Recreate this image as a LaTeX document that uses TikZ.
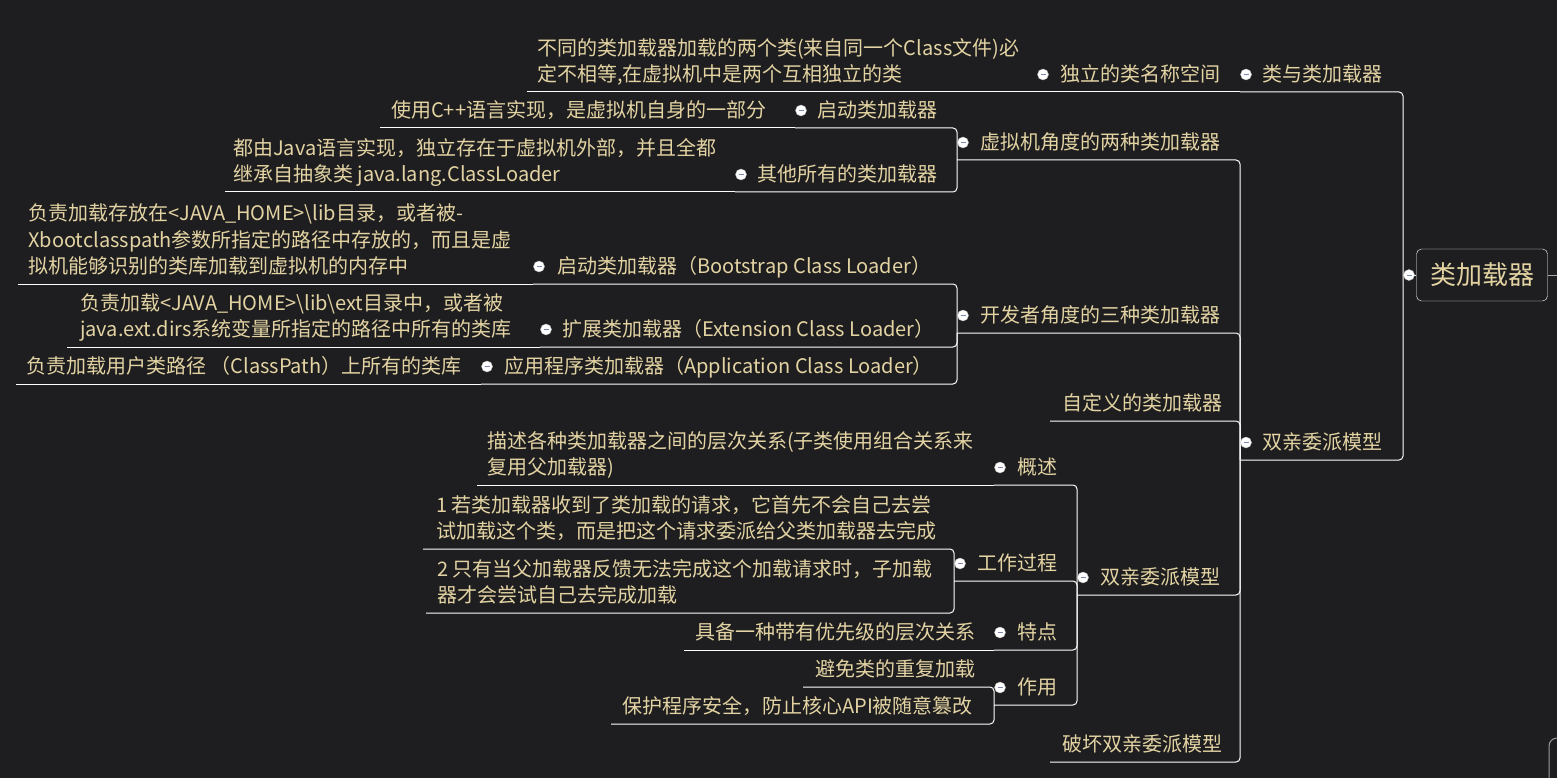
\documentclass[tikz,border=0pt]{standalone}
\usepackage{fontspec}
\setmainfont{Noto Sans CJK SC}
\usetikzlibrary{positioning}
\definecolor{bgcol}{HTML}{1E1E20}
\definecolor{txtcol}{HTML}{E3D3A3}
\definecolor{minuscol}{HTML}{7A86B0}
\begin{document}
\begin{tikzpicture}[x=1pt, y=-1pt]

% Styles
        \tikzstyle{topic}=[anchor=south west, inner sep=0pt, text depth=0pt, align=left, text=txtcol, font=\fontsize{20}{26.5}\selectfont]
        \tikzstyle{rootbox}=[rectangle, draw=white, rounded corners=5pt, minimum width=131pt, minimum height=52pt, text=txtcol, font=\fontsize{26}{30}\selectfont]
        \tikzstyle{fold}=[circle, fill=white, draw=gray!50, minimum size=11pt, inner sep=0pt, path picture={\draw[minuscol, line width=0.8pt] ([xshift=-2.5pt]path picture bounding box.center) -- ([xshift=2.5pt]path picture bounding box.center);}]
        \tikzstyle{link}=[draw=white, line width=1pt, rounded corners=4pt]

% Background
        \useasboundingbox (0,0) rectangle (1557,778);
        \fill[bgcol] (0,0) rectangle (1557,778);

% Nodes
% Root
        \node[rootbox] (root) at (1482,275) {类加载器};
        \coordinate (root-l) at (1403,275);
        \coordinate (root-r) at (1557,275);

% 类与类加载器
        \node[topic] (n1) at (1262,82) {类与类加载器};
        \coordinate (n1-l) at (1240,92);
        \node[topic] (n11) at (1060,82) {独立的类名称空间};
        \coordinate (n11-l) at (1037,92);
        \node[topic] (n111) at (537,82) {不同的类加载器加载的两个类(来自同一个Class文件)必\\定不相等,在虚拟机中是两个互相独立的类};
        \coordinate (n111-l) at (527,92);

% 双亲委派模型
        \node[topic] (n2) at (1262,450) {双亲委派模型};
        \coordinate (n2-l) at (1240,460);

% 虚拟机角度
        \node[topic] (n21) at (980,150) {虚拟机角度的两种类加载器};
        \coordinate (n21-l) at (957,160);
        \node[topic] (n211) at (817,118) {启动类加载器};
        \coordinate (n211-l) at (795,128);
        \node[topic] (n2111) at (391,118) {使用C++语言实现，是虚拟机自身的一部分};
        \coordinate (n2111-l) at (380,128);
        \node[topic] (n212) at (757,182) {其他所有的类加载器};
        \coordinate (n212-l) at (735,192);
        \node[topic] (n2121) at (233,182) {都由Java语言实现，独立存在于虚拟机外部，并且全都\\继承自抽象类 java.lang.ClassLoader};
        \coordinate (n2121-l) at (225,192);

% 开发者角度
        \node[topic] (n22) at (980,323) {开发者角度的三种类加载器};
        \coordinate (n22-l) at (957,333);
        \node[topic] (n221) at (557,274) {启动类加载器（Bootstrap Class Loader）};
        \coordinate (n221-l) at (533,284);
        \node[topic] (n2211) at (28,274) {负责加载存放在<JAVA\_HOME>\textbackslash lib目录，或者被-\\Xbootclasspath参数所指定的路径中存放的，而且是虚\\拟机能够识别的类库加载到虚拟机的内存中};
        \coordinate (n2211-l) at (18,284);
        \node[topic] (n222) at (562,337) {扩展类加载器（Extension Class Loader）};
        \coordinate (n222-l) at (540,347);
        \node[topic] (n2221) at (80,337) {负责加载<JAVA\_HOME>\textbackslash lib\textbackslash ext目录中，或者被\\java.ext.dirs系统变量所指定的路径中所有的类库};
        \coordinate (n2221-l) at (67,347);
        \node[topic] (n223) at (504,374) {应用程序类加载器（Application Class Loader）};
        \coordinate (n223-l) at (481,384);
        \node[topic] (n2231) at (26,374) {负责加载用户类路径 （ClassPath）上所有的类库};
        \coordinate (n2231-l) at (16,384);

% 自定义
        \node[topic] (n23) at (1062,411) {自定义的类加载器};
        \coordinate (n23-l) at (1050,421);

% 双亲委派模型 (inner)
        \node[topic] (n24) at (1100,585) {双亲委派模型};
        \coordinate (n24-l) at (1077,595);
        \node[topic] (n241) at (1017,475) {概述};
        \coordinate (n241-l) at (994,485);
        \node[topic] (n2411) at (487,475) {描述各种类加载器之间的层次关系(子类使用组合关系来\\复用父加载器)};
        \coordinate (n2411-l) at (477,485);
        \node[topic] (n242) at (977,571) {工作过程};
        \coordinate (n242-l) at (954,581);
        \node[topic] (n2421) at (436,539) {1 若类加载器收到了类加载的请求，它首先不会自己去尝\\试加载这个类，而是把这个请求委派给父类加载器去完成};
        \coordinate (n2421-l) at (423,549);
        \node[topic] (n2422) at (437,603) {2 只有当父加载器反馈无法完成这个加载请求时，子加载\\器才会尝试自己去完成加载};
        \coordinate (n2422-l) at (426,613);
        \node[topic] (n243) at (1017,640) {特点};
        \coordinate (n243-l) at (994,650);
        \node[topic] (n2431) at (695,640) {具备一种带有优先级的层次关系};
        \coordinate (n2431-l) at (684,650);
        \node[topic] (n244) at (1017,695) {作用};
        \coordinate (n244-l) at (994,705);
        \node[topic] (n2441) at (815,677) {避免类的重复加载};
        \coordinate (n2441-l) at (803,687);
        \node[topic] (n2442) at (622,714) {保护程序安全，防止核心API被随意篡改};
        \coordinate (n2442-l) at (611,724);

% 破坏
        \node[topic] (n25) at (1062,752) {破坏双亲委派模型};
        \coordinate (n25-l) at (1050,762);

% Off-screen branch
        \coordinate (off-a) at (1557,738);
        \coordinate (off-b) at (1549,778);

% Connections
        \draw[link] (n1-l) -| (root-l);
        \draw[link] (n2-l) -| (root-l);
        \draw[link] (root-l) -- (root);
        \draw[link, draw=gray!70] (root) -- (root-r);
        \draw[link, draw=gray!80, rounded corners=8pt] (off-a) -| (off-b);

        \draw[link] (n11-l) -- (n1-l);
        \draw[link] (n111-l) -- (n11-l);

        \draw[link] (n21-l) -| (n2-l);
        \draw[link] (n22-l) -| (n2-l);
        \draw[link] (n23-l) -| (n2-l);
        \draw[link] (n24-l) -| (n2-l);
        \draw[link] (n25-l) -| (n2-l);

        \draw[link] (n211-l) -| (n21-l);
        \draw[link] (n212-l) -| (n21-l);
        \draw[link] (n2111-l) -- (n211-l);
        \draw[link] (n2121-l) -- (n212-l);

        \draw[link] (n221-l) -| (n22-l);
        \draw[link] (n222-l) -| (n22-l);
        \draw[link] (n223-l) -| (n22-l);
        \draw[link] (n2211-l) -- (n221-l);
        \draw[link] (n2221-l) -- (n222-l);
        \draw[link] (n2231-l) -- (n223-l);

        \draw[link] (n241-l) -| (n24-l);
        \draw[link] (n242-l) -| (n24-l);
        \draw[link] (n243-l) -| (n24-l);
        \draw[link] (n244-l) -| (n24-l);
        \draw[link] (n2411-l) -- (n241-l);
        \draw[link] (n2421-l) -| (n242-l);
        \draw[link] (n2422-l) -| (n242-l);
        \draw[link] (n2431-l) -- (n243-l);
        \draw[link] (n2441-l) -| (n244-l);
        \draw[link] (n2442-l) -| (n244-l);

% Fold markers
        \node[fold] (root-fold) at ([xshift=6pt]root-l) {};
        \foreach \n in {n1, n11, n2, n21, n211, n212, n22, n221, n222, n223, n24, n241, n242, n243, n244}
            \node[fold] (\n-fold) at ([shift={(6,-17.5)}]\n-l) {};

\end{tikzpicture}
\end{document}
